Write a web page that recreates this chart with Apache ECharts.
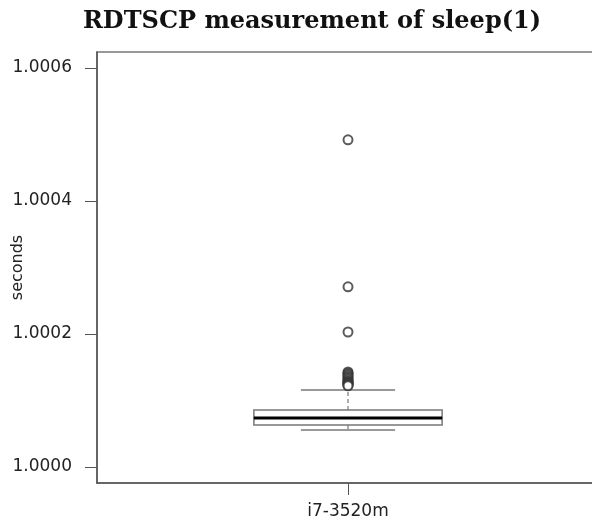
<!DOCTYPE html>
<html>
<head>
<meta charset="utf-8">
<script src="https://cdn.jsdelivr.net/npm/echarts@6/dist/echarts.min.js"></script>
<style>html,body{margin:0;padding:0;background:#fff;}#c{width:592px;height:528px;}</style>
</head>
<body>
<div id="c"></div>
<script>
var categories = ['i7-3520m'];
// [lower whisker, Q1, median, Q3, upper whisker]
var boxStats = [[1.0000556, 1.0000632, 1.0000737, 1.0000857, 1.0001158]];
var outliers = [1.000492, 1.000271, 1.000203, 1.000143, 1.000141, 1.000139, 1.000137, 1.000135,
  1.000133, 1.000131, 1.000129, 1.000128, 1.000127, 1.000126, 1.000125, 1.000124, 1.000123, 1.000122];
var yTicks = [1.0000, 1.0002, 1.0004, 1.0006];

var chart = echarts.init(document.getElementById('c'));
var boxData = boxStats.map(function (s, i) { return [i].concat(s); });
var outlierData = outliers.map(function (v) { return [0, v]; });

chart.setOption({
  animation: false,
  backgroundColor: '#fff',
  title: {
    text: 'RDTSCP measurement of sleep(1)',
    left: 307, top: 5, textAlign: 'center',
    textStyle: { fontFamily: 'DejaVu Serif', fontWeight: 'bold', fontSize: 24, color: '#111' }
  },
  grid: { left: 97, top: 52, width: 502, height: 431, show: true, borderColor: '#777', borderWidth: 1.5,
    containLabel: false, outerBoundsMode: 'none' },
  xAxis: {
    type: 'category', data: categories,
    axisLine: { show: true, lineStyle: { color: '#555', width: 1.5 } },
    axisTick: { show: true, alignWithLabel: true, length: 12, lineStyle: { color: '#555' } },
    axisLabel: { margin: 20, fontFamily: 'DejaVu Sans', fontSize: 17, color: '#222' },
    splitLine: { show: false }
  },
  yAxis: {
    type: 'value', min: 0.9999759, max: 1.0006241,
    name: 'seconds', nameLocation: 'middle', nameGap: 71, nameMoveOverlap: false,
    nameTextStyle: { fontFamily: 'DejaVu Sans', fontSize: 16, color: '#222' },
    axisLine: { show: true, lineStyle: { color: '#555', width: 1.5 } },
    axisTick: { show: true, length: 12, customValues: yTicks, lineStyle: { color: '#555' } },
    axisLabel: { margin: 25, customValues: yTicks, fontFamily: 'DejaVu Sans', fontSize: 17, color: '#222',
      formatter: function (v) { return v.toFixed(4); } },
    splitLine: { show: false }
  },
  series: [
    {
      type: 'custom',
      data: boxData,
      encode: { x: 0, y: [1, 2, 3, 4, 5] },
      renderItem: function (params, api) {
        var xi = api.value(0);
        var pLow = api.coord([xi, api.value(1)]);
        var pQ1 = api.coord([xi, api.value(2)]);
        var pMed = api.coord([xi, api.value(3)]);
        var pQ3 = api.coord([xi, api.value(4)]);
        var pHigh = api.coord([xi, api.value(5)]);
        var band = api.size([1, 0])[0];
        var bw = band * 0.375;
        var cw = bw / 2;
        var cx = pMed[0];
        var gray = '#777';
        return {
          type: 'group',
          children: [
            { type: 'line', shape: { x1: cx, y1: pQ3[1], x2: cx, y2: pHigh[1] }, style: { stroke: gray, lineWidth: 1.2, lineDash: [4, 3] } },
            { type: 'line', shape: { x1: cx, y1: pQ1[1], x2: cx, y2: pLow[1] }, style: { stroke: gray, lineWidth: 1.2, lineDash: [4, 3] } },
            { type: 'line', shape: { x1: cx - cw / 2, y1: pHigh[1], x2: cx + cw / 2, y2: pHigh[1] }, style: { stroke: gray, lineWidth: 1.5 } },
            { type: 'line', shape: { x1: cx - cw / 2, y1: pLow[1], x2: cx + cw / 2, y2: pLow[1] }, style: { stroke: gray, lineWidth: 1.5 } },
            { type: 'rect', shape: { x: cx - bw / 2, y: pQ3[1], width: bw, height: pQ1[1] - pQ3[1] }, style: { fill: '#fff', stroke: gray, lineWidth: 1.5 } },
            { type: 'line', shape: { x1: cx - bw / 2, y1: pMed[1], x2: cx + bw / 2, y2: pMed[1] }, style: { stroke: '#000', lineWidth: 3 } }
          ]
        };
      },
      z: 2
    },
    {
      type: 'scatter',
      data: outlierData,
      symbol: 'emptyCircle',
      symbolSize: 9,
      itemStyle: { color: '#333', borderColor: '#333', borderWidth: 1.2 },
      z: 3
    }
  ]
});
</script>
</body>
</html>
